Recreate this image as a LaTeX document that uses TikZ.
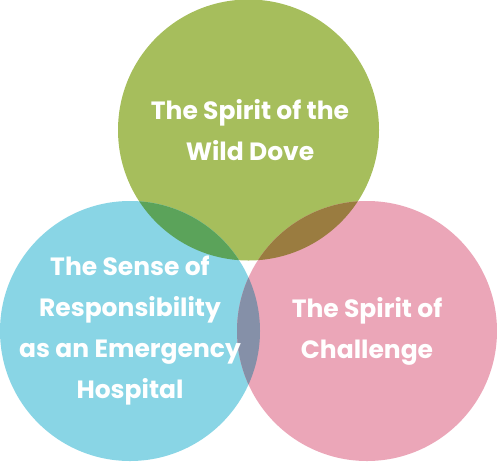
\documentclass[tikz,border=0pt]{standalone}
\usepackage{fontspec}
\setmainfont{Poppins}
\definecolor{cg}{HTML}{A6BE5C}
\definecolor{cb}{HTML}{89D5E5}
\definecolor{cp}{HTML}{EBA6B8}
\definecolor{cgb}{HTML}{5BA35A}
\definecolor{cgp}{HTML}{9A7C40}
\definecolor{cbp}{HTML}{8590A8}
\begin{document}
\begin{tikzpicture}[x=1pt,y=-1pt,
  lbl/.style={text=white,font=\bfseries\fontsize{25}{41}\selectfont,align=center,inner sep=0pt}]
\useasboundingbox (0,0) rectangle (497,461);
\def\G{(248.5,130) circle[radius=130.5]}
\def\B{(130,331) circle[radius=130]}
\def\P{(367,331) circle[radius=130]}
\fill[cg] \G;
\fill[cb] \B;
\fill[cp] \P;
\begin{scope}\clip \G; \fill[cgb] \B; \fill[cgp] \P; \end{scope}
\begin{scope}\clip \B; \fill[cbp] \P; \end{scope}
\node[lbl] (g) at (250,130) {The Spirit of the\\Wild Dove};
\node[lbl] (b) at (130,331) {The Sense of\\Responsibility\\as an Emergency\\Hospital};
\node[lbl] (p) at (367,331) {The Spirit of\\Challenge};
\end{tikzpicture}
\end{document}
